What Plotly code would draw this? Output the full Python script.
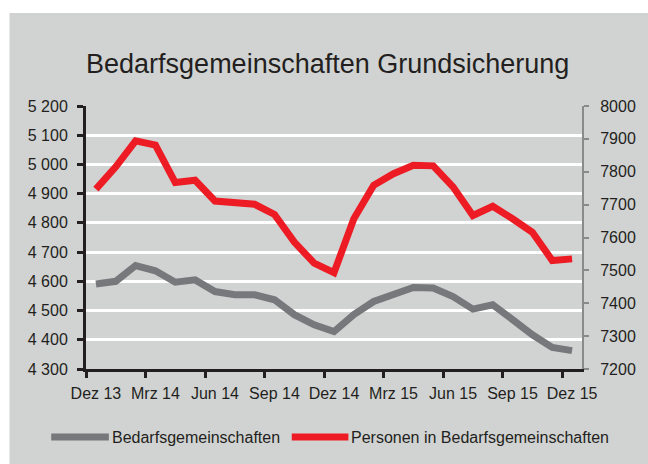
import plotly.graph_objects as go

categories = ["Dez 13", "Jan 14", "Feb 14", "Mrz 14", "Apr 14", "Mai 14", "Jun 14", "Jul 14",
              "Aug 14", "Sep 14", "Okt 14", "Nov 14", "Dez 14", "Jan 15", "Feb 15", "Mrz 15",
              "Apr 15", "Mai 15", "Jun 15", "Jul 15", "Aug 15", "Sep 15", "Okt 15", "Nov 15", "Dez 15"]

bedarfsgemeinschaften = [4591, 4600, 4654, 4636, 4597, 4605, 4565, 4554, 4554, 4537, 4486, 4451,
                         4428, 4486, 4531, 4554, 4579, 4577, 4548, 4505, 4520, 4469, 4417, 4374, 4363]

personen = [7747, 7815, 7894, 7881, 7767, 7774, 7711, 7708, 7701, 7670, 7586, 7522,
            7493, 7657, 7759, 7794, 7820, 7818, 7754, 7667, 7695, 7657, 7616, 7530, 7535]

left_tickvals = [4300, 4400, 4500, 4600, 4700, 4800, 4900, 5000, 5100, 5200]
left_ticktext = ["4 300", "4 400", "4 500", "4 600", "4 700", "4 800", "4 900", "5 000", "5 100", "5 200"]
right_tickvals = [7200, 7300, 7400, 7500, 7600, 7700, 7800, 7900, 8000]
x_label_idx = [0, 3, 6, 9, 12, 15, 18, 21, 24]

FONT = "Liberation Sans, Arial, sans-serif"
TXT = "#231f20"
BG = "#d1d3d2"
RED = "#ed1c24"
GRAY = "#77787b"

xs = list(range(len(categories)))

fig = go.Figure()
fig.add_trace(go.Scatter(x=xs, y=bedarfsgemeinschaften, mode="lines",
                         name="Bedarfsgemeinschaften",
                         line=dict(color=GRAY, width=7), yaxis="y"))
fig.add_trace(go.Scatter(x=xs, y=personen, mode="lines",
                         name="Personen in Bedarfsgemeinschaften",
                         line=dict(color=RED, width=7), yaxis="y2"))

W, H = 648, 464
PL, PR, PT, PB = 86, 585, 106, 369   # plot area in page pixels
L, T, R, B = PL, PT, W - PR, H - PB
pw, ph = PR - PL, PB - PT

def px(X):
    return (X - PL) / pw

def py(Y):
    return (PB - Y) / ph

shapes = [
    # white outer strips (top and left)
    dict(type="rect", xref="paper", yref="paper", x0=px(-5), x1=px(700), y0=py(13), y1=py(-5),
         fillcolor="white", line=dict(width=0), layer="below"),
    dict(type="rect", xref="paper", yref="paper", x0=px(-5), x1=px(9), y0=py(500), y1=py(-5),
         fillcolor="white", line=dict(width=0), layer="below"),
    # legend samples
    dict(type="line", xref="paper", yref="paper", x0=px(51), x1=px(109), y0=py(437), y1=py(437),
         line=dict(color=GRAY, width=7)),
    dict(type="line", xref="paper", yref="paper", x0=px(293), x1=px(350), y0=py(437), y1=py(437),
         line=dict(color=RED, width=7)),
]

annotations = [
    dict(text="Bedarfsgemeinschaften", xref="paper", yref="paper", x=px(110), y=py(437),
         xanchor="left", yanchor="middle", showarrow=False, font=dict(size=16, color=TXT, family=FONT)),
    dict(text="Personen in Bedarfsgemeinschaften", xref="paper", yref="paper", x=px(351), y=py(437),
         xanchor="left", yanchor="middle", showarrow=False, font=dict(size=16, color=TXT, family=FONT)),
]

fig.update_layout(
    width=W, height=H,
    margin=dict(l=L, r=R, t=T, b=B, pad=0),
    paper_bgcolor=BG, plot_bgcolor=BG,
    showlegend=False,
    font=dict(family=FONT, size=16, color=TXT),
    title=dict(text="Bedarfsgemeinschaften Grundsicherung", x=327.7 / W, xanchor="center",
               y=1 - 63.5 / H, yanchor="middle", font=dict(size=27, color=TXT, family=FONT)),
    xaxis=dict(range=[-0.5, len(categories) - 0.5], tickvals=x_label_idx,
               ticktext=[categories[i] for i in x_label_idx],
               ticks="", showgrid=False, zeroline=False,
               showline=True, linecolor=TXT, linewidth=3,
               ticklabelstandoff=8,
               tickfont=dict(size=16, color=TXT),
               minor=dict(tickvals=[i - 0.5 for i in x_label_idx], ticks="outside",
                          ticklen=6, tickwidth=2.5, tickcolor=TXT, showgrid=False)),
    yaxis=dict(range=[4300, 5200], tickvals=left_tickvals, ticktext=left_ticktext,
               showgrid=True, gridcolor="white", gridwidth=2.5, zeroline=False,
               showline=True, linecolor=TXT, linewidth=3,
               ticks="outside", ticklen=6, tickwidth=2.5, tickcolor=TXT,
               ticklabelstandoff=6, tickfont=dict(size=16, color=TXT)),
    yaxis2=dict(range=[7200, 8000], tickvals=right_tickvals, overlaying="y", side="right",
                showgrid=False, zeroline=False, showline=True, linecolor="#8a8a8a", linewidth=2,
                ticks="outside", ticklen=5, tickwidth=2, tickcolor="#8a8a8a",
                ticklabelstandoff=8, tickfont=dict(size=16, color=TXT)),
    shapes=shapes,
    annotations=annotations,
)

fig.write_html(
    "out.html",
    config={"displayModeBar": False},
    post_script="document.documentElement.style.margin='0';document.body.style.margin='0';"
                "document.documentElement.style.overflow='hidden';"
                "document.body.style.overflow='hidden';"
                "document.documentElement.style.background='" + BG + "';"
                "document.body.style.background='" + BG + "';",
)
